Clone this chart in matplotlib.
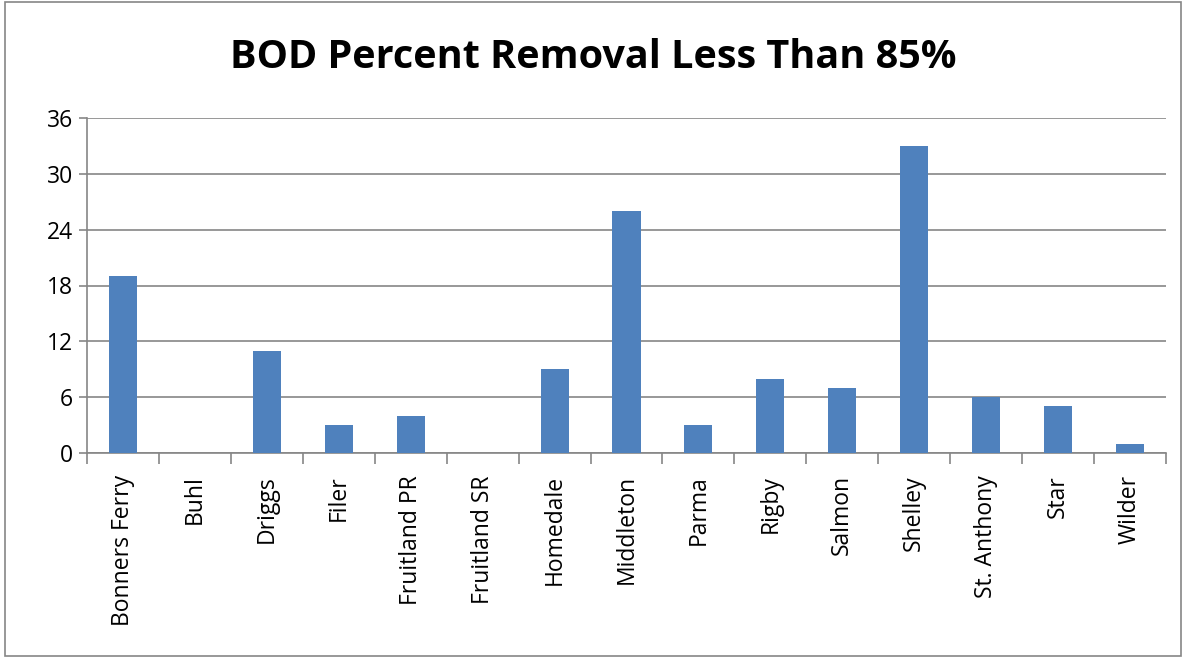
import matplotlib.pyplot as plt
import numpy as np
from matplotlib.patches import Rectangle

towns = ['Bonners Ferry', 'Buhl', 'Driggs', 'Filer', 'Fruitland PR', 'Fruitland SR',
         'Homedale', 'Middleton', 'Parma', 'Rigby', 'Salmon', 'Shelley',
         'St. Anthony', 'Star', 'Wilder']
counts = [19, 0, 11, 3, 4, 0, 9, 26, 3, 8, 7, 33, 6, 5, 1]
yticks = [0, 6, 12, 18, 24, 30, 36]

plt.rcParams['font.family'] = ['Open Sans', 'DejaVu Sans']

fig = plt.figure(figsize=(11.86, 6.58), dpi=100)
ax = fig.add_axes([87 / 1186, 1 - 453 / 658, (1166 - 87) / 1186, (453 - 118) / 658])

x = np.arange(len(towns))
ax.bar(x, counts, width=0.39, color='#4F81BD', zorder=3)

ax.set_xlim(-0.5, len(towns) - 0.5)
ax.set_ylim(0, 36)
ax.set_yticks(yticks)
ax.set_yticklabels([str(v) for v in yticks], fontsize=16.5)
ax.grid(True, axis='y', color='#868686', linewidth=1.2, zorder=0)

ax.set_xticks(x)
ax.set_xticklabels(towns, rotation=90, fontsize=16.5)
ax.tick_params(axis='x', length=0, pad=16)
ax.set_xticks(np.arange(-0.5, len(towns)), minor=True)
ax.tick_params(axis='x', which='minor', length=8, width=1.2, color='#868686', direction='out')
ax.tick_params(axis='y', length=6, width=1.2, color='#868686', pad=4)

for s in ['top', 'right']:
    ax.spines[s].set_visible(False)
for s in ['left', 'bottom']:
    ax.spines[s].set_color('#868686')
    ax.spines[s].set_linewidth(1.2)

fig.text(0.5, 1 - 58 / 658, 'BOD Percent Removal Less Than 85%', ha='center', va='center',
         fontsize=28.5, fontweight='bold')

fig.patches.append(Rectangle((5 / 1186, 2 / 658), 1176 / 1186, 654 / 658, transform=fig.transFigure,
                             fill=False, edgecolor='#868686', linewidth=1.2))

fig.savefig('out.png', dpi=100)
